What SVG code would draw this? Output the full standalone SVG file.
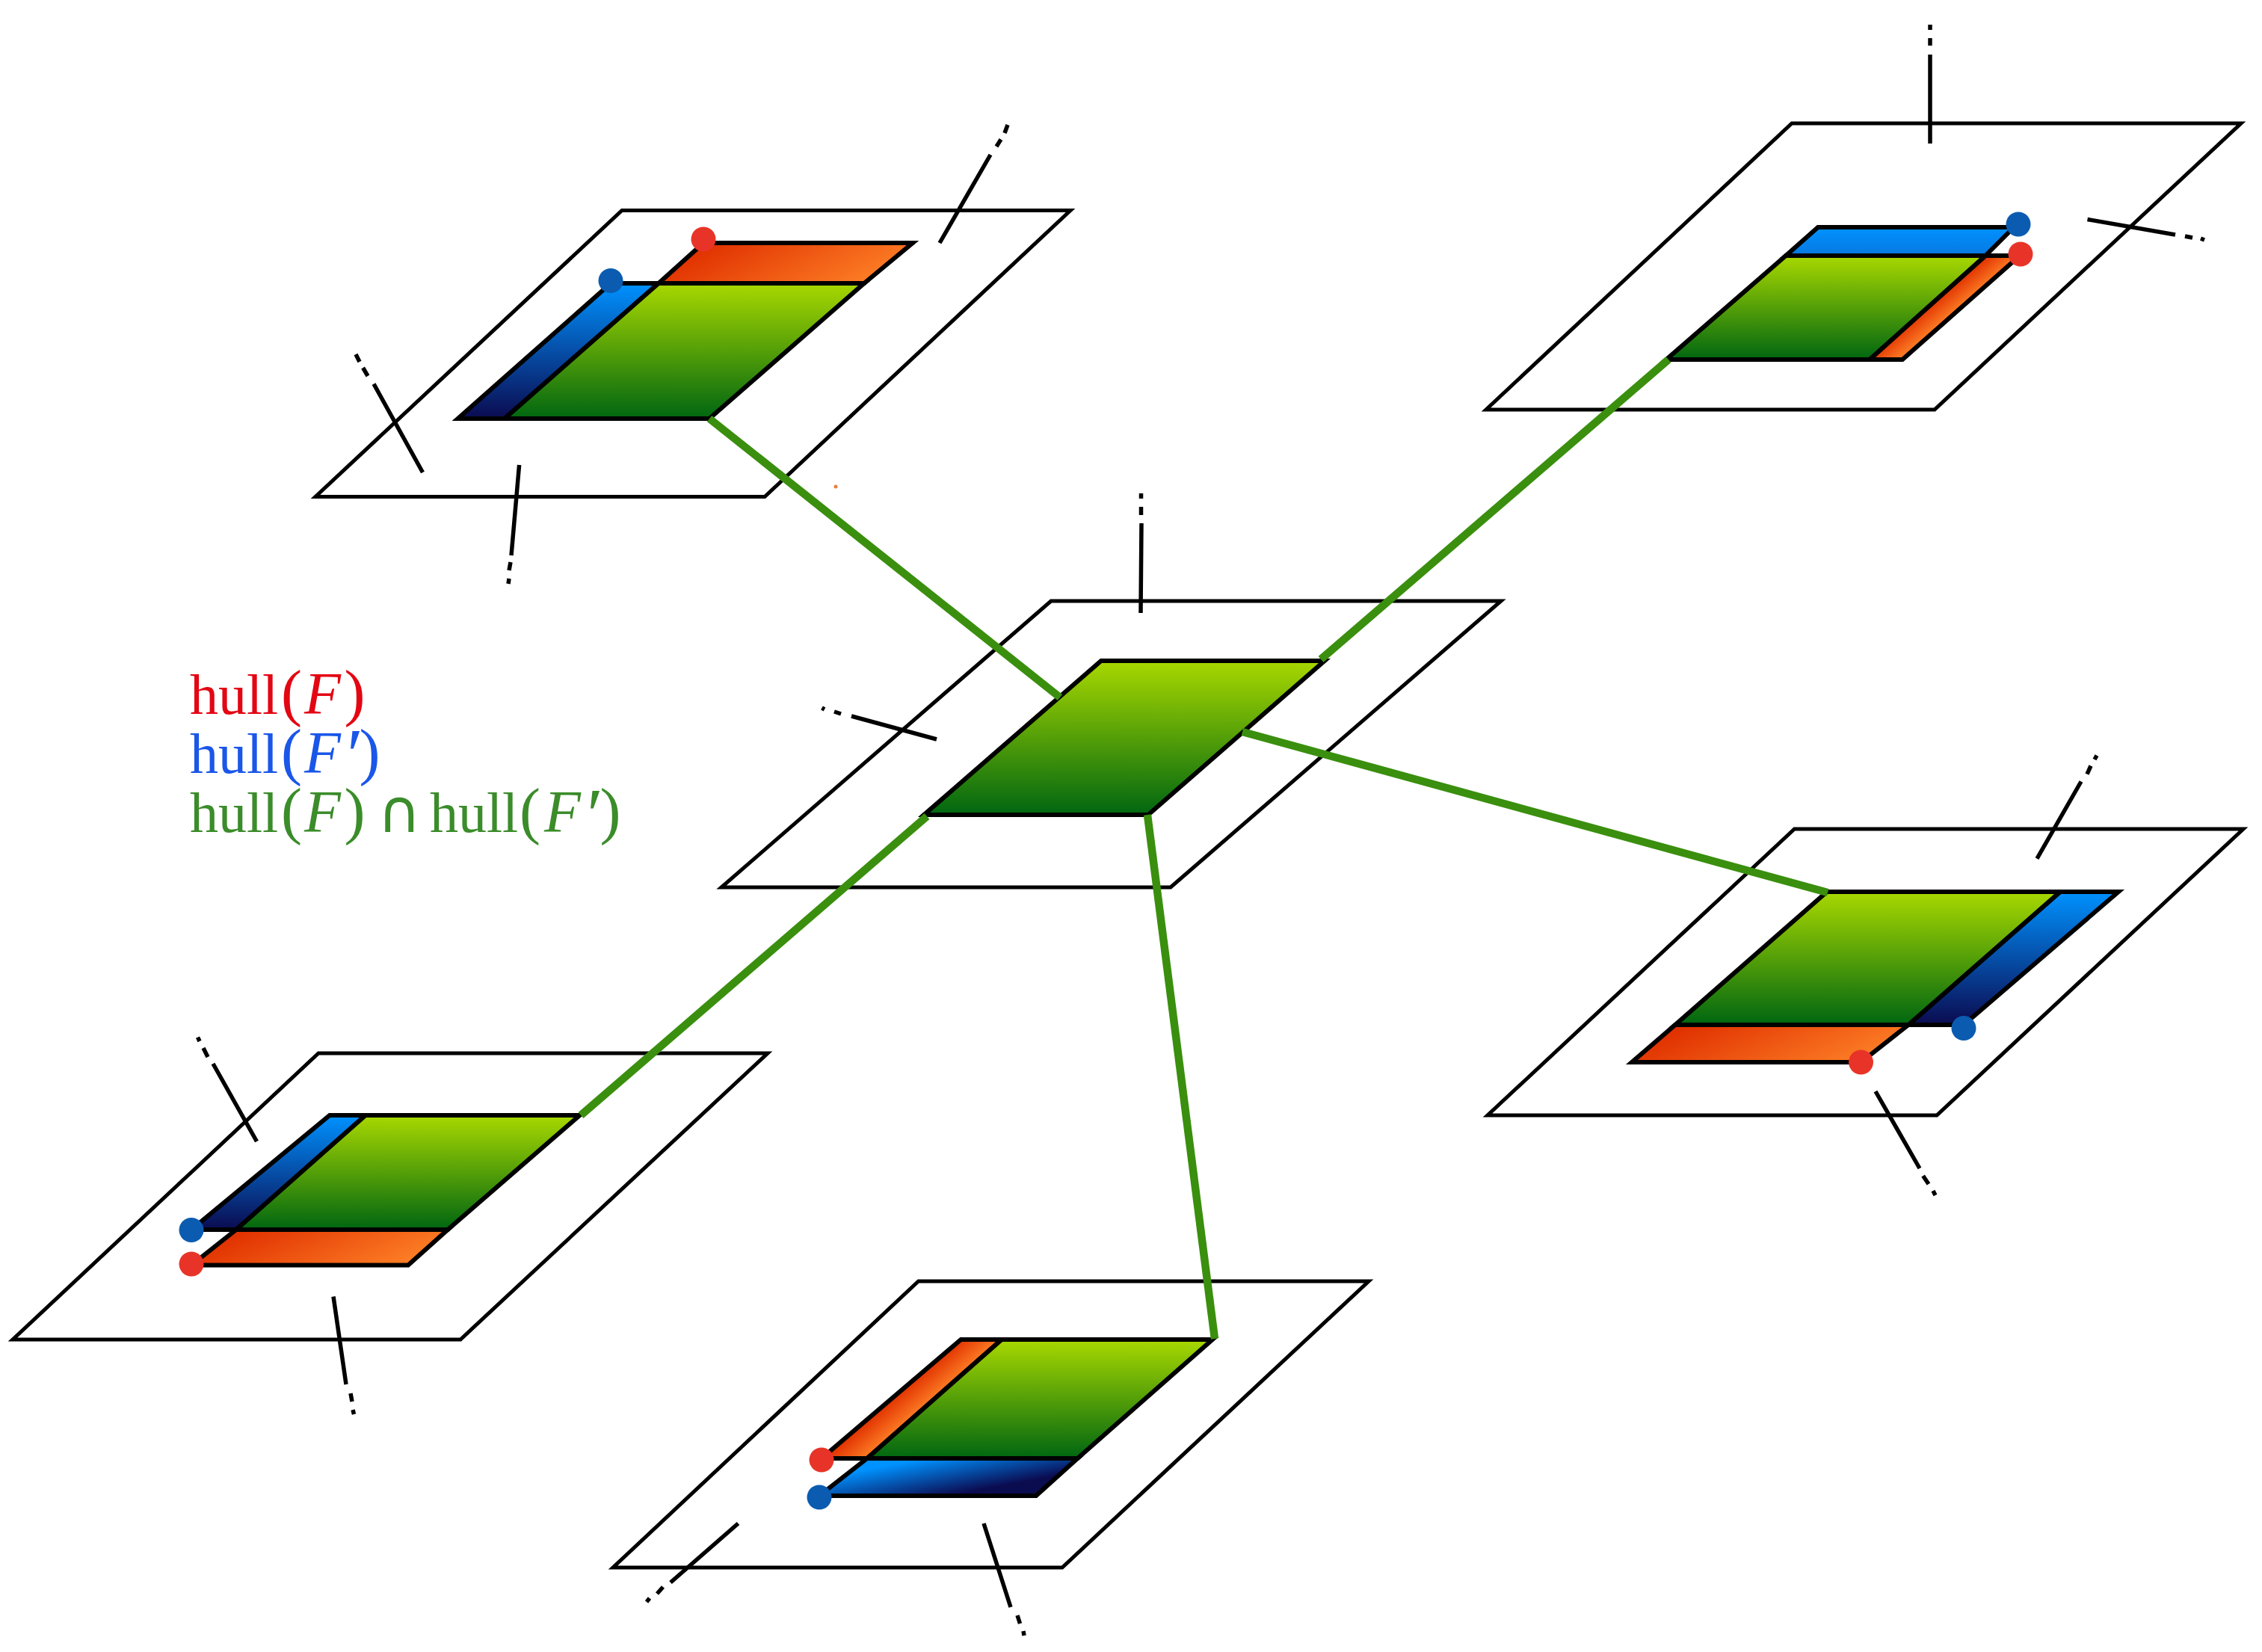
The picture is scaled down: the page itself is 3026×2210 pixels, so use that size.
<svg xmlns="http://www.w3.org/2000/svg" width="3026" height="2210" viewBox="0 0 3026 2210">
<style>
.plane{fill:none;stroke:#000;stroke-width:5;stroke-linejoin:miter}
.tick{fill:none;stroke:#000;stroke-width:5.5}
.face{stroke:#000;stroke-width:6;stroke-linejoin:miter}
.g{fill:url(#green)}
.rh{fill:url(#redH)}
.bv{fill:url(#blueV)}
.dr{fill:#e83428}
.db{fill:#0b5cb0}
.conn{fill:none;stroke:#3a8f0e;stroke-width:10.5}
.lg{font-family:"Liberation Serif","Times New Roman",serif;font-size:76px}
.it{font-style:italic;font-size:80px}
.pa{font-size:84px;font-weight:normal}
.pr{font-style:italic;font-size:100px}
.cap{font-family:"DejaVu Sans",sans-serif;font-size:80px}
</style>
<defs>
<linearGradient id="green" x1="0" y1="0" x2="0" y2="1"><stop offset="0" stop-color="#a8d800"/><stop offset="1" stop-color="#006611"/></linearGradient>
<linearGradient id="redH" x1="0" y1="0.35" x2="1" y2="0.65"><stop offset="0.08" stop-color="#e03000"/><stop offset="1" stop-color="#ff8428"/></linearGradient>
<linearGradient id="blueV" x1="0" y1="0" x2="0" y2="1"><stop offset="0" stop-color="#0092ff"/><stop offset="1" stop-color="#0b0b50"/></linearGradient>
<linearGradient id="blueTR" x1="0" y1="0" x2="0" y2="1"><stop offset="0" stop-color="#0092ff"/><stop offset="1" stop-color="#0878e0"/></linearGradient>
<linearGradient id="blueB" gradientUnits="userSpaceOnUse" x1="1200" y1="1958" x2="1210" y2="2012"><stop offset="0" stop-color="#0092ff"/><stop offset="1" stop-color="#0b0b50"/></linearGradient>
<linearGradient id="redB" gradientUnits="userSpaceOnUse" x1="1211" y1="1854" x2="1239" y2="1886"><stop offset="0" stop-color="#e03000"/><stop offset="1" stop-color="#ff8428"/></linearGradient>
<linearGradient id="redTR" gradientUnits="userSpaceOnUse" x1="2592" y1="397" x2="2614" y2="423"><stop offset="0" stop-color="#e03000"/><stop offset="1" stop-color="#ff8428"/></linearGradient>
</defs>
<rect width="3026" height="2210" fill="#fff"/>

<g id="node-top-left">
<polygon class="plane" points="832,281.500 1432,281.500 1023,664.500 422,664.500"/>
<path class="tick" d="M1257,325L1325,207M1333,196L1339,186.500M1344,178L1348,167M565.500,632L500,513.600M492,503L485.600,492M481,484L476,474M694.600,622L684,743M683,752L681,763M681,774L680,781"/>
<polygon class="face bv" points="817,379 881,379 675,560 612.500,560"/>
<polygon class="face rh" points="941,325 1221,325 1156,379 881,379"/>
<polygon class="face g" points="881,379 1156,379 949,560 675,560"/>
<circle class="db" cx="817" cy="375.500" r="16.500"/>
<circle class="dr" cx="941" cy="320" r="16.500"/>
</g>

<g id="node-top-right">
<polygon class="plane" points="2397,165 2998,165 2588,548 1988,548"/>
<path class="tick" d="M2582,192V73M2582,61V51M2582,40V33M2792.500,293.500L2910,314M2923,316L2933,318M2944,319L2949,321"/>
<polygon class="face" fill="url(#blueTR)" points="2432,304 2694,304 2656,342 2389,342"/>
<polygon class="face" fill="url(#redTR)" points="2656,342 2702,342 2545,481 2501,481"/>
<polygon class="face g" points="2389,342 2656,342 2501,481 2229,481"/>
<circle class="db" cx="2700" cy="300" r="16.500"/>
<circle class="dr" cx="2703" cy="340" r="16.500"/>
</g>

<g id="node-center">
<polygon class="plane" points="1406,804 2008,804 1566,1187 965,1187"/>
<path class="tick" d="M1526,820L1527,700M1526.500,689V678M1526.500,667V660M1253,989L1139,958M1125,955L1116,952M1103,949L1099.500,947"/>
<polygon class="face g" points="1473,884 1772,884 1536,1090 1236,1090"/>
</g>

<g id="node-right">
<polygon class="plane" points="2400.500,1109 3001,1109 2591,1492 1990,1492"/>
<path class="tick" d="M2725,1148.600L2784,1045.500M2792,1035.600L2797,1024.500M2802,1016L2805,1010.700M2509,1460L2568,1563M2572.600,1573L2580,1584M2586,1593L2589,1599"/>
<polygon class="face bv" points="2756,1193 2834,1193 2627,1371 2553,1371"/>
<polygon class="face rh" points="2241,1371 2553,1371 2489.500,1421 2183,1421"/>
<polygon class="face g" points="2444,1193 2756,1193 2553,1371 2241,1371"/>
<circle class="db" cx="2627" cy="1375.500" r="16.500"/>
<circle class="dr" cx="2489.500" cy="1421" r="16.500"/>
</g>

<g id="node-bottom-left">
<polygon class="plane" points="426,1409 1027,1409 616,1792 17,1792"/>
<path class="tick" d="M343.500,1527L285,1423M278,1414L272,1402M267,1393L264.500,1387.600M446,1734.500L463,1852M469,1864L471,1875M472,1886L473.500,1892"/>
<polygon class="face bv" points="441,1492 489,1492 316,1645 256,1645"/>
<polygon class="face rh" points="316,1645 599,1645 546,1692.500 256,1692.500"/>
<polygon class="face g" points="489,1492 775.500,1492 599,1645 316,1645"/>
<circle class="db" cx="256" cy="1645.500" r="16.500"/>
<circle class="dr" cx="256" cy="1691" r="16.500"/>
</g>

<g id="node-bottom">
<polygon class="plane" points="1228.600,1714 1831,1714 1421,2097 820,2097"/>
<path class="tick" d="M987.500,2038L897,2117M887,2123L879,2132M869,2138L865,2143M1316,2038L1352,2150M1361,2161L1364.500,2172M1369,2182L1370,2188"/>
<polygon class="face" fill="url(#redB)" points="1285.500,1792 1340,1792 1160,1951 1099,1951"/>
<polygon class="face" fill="url(#blueB)" points="1160,1951 1441.500,1951 1386,2001 1096,2001"/>
<polygon class="face g" points="1340,1792 1622,1792 1441.500,1951 1160,1951"/>
<circle class="dr" cx="1099" cy="1953" r="16.500"/>
<circle class="db" cx="1096" cy="2003" r="16.500"/>
</g>

<g id="connectors">
<line class="conn" x1="949" y1="560" x2="1418" y2="933"/>
<line class="conn" x1="1767" y1="882" x2="2232" y2="481"/>
<line class="conn" x1="1662" y1="979" x2="2445" y2="1194"/>
<line class="conn" x1="1535" y1="1090" x2="1625" y2="1791"/>
<line class="conn" x1="1240" y1="1092" x2="777" y2="1492"/>
</g>

<circle cx="1118" cy="651" r="2.500" fill="#e8803c"/>

<g id="legend" class="lg">
<text fill="#e30613" y="955"><tspan x="254">hull</tspan><tspan class="pa" x="376">(</tspan><tspan class="it" x="407">F</tspan><tspan class="pa" x="460.500">)</tspan></text>
<text fill="#1a56e8" y="1033.500"><tspan x="254">hull</tspan><tspan class="pa" x="376">(</tspan><tspan class="it" x="407">F</tspan><tspan class="pr" x="458" y="1043">′</tspan><tspan class="pa" x="480.500" y="1033.500">)</tspan></text>
<text fill="#3b8c2a" y="1112.500"><tspan x="254">hull</tspan><tspan class="pa" x="376">(</tspan><tspan class="it" x="407">F</tspan><tspan class="pa" x="460.500">)</tspan><tspan class="cap" x="505">∩</tspan><tspan x="575">hull</tspan><tspan class="pa" x="695">(</tspan><tspan class="it" x="728">F</tspan><tspan class="pr" x="779" y="1122.500">′</tspan><tspan class="pa" x="802.500" y="1112.500">)</tspan></text>
</g>
</svg>
